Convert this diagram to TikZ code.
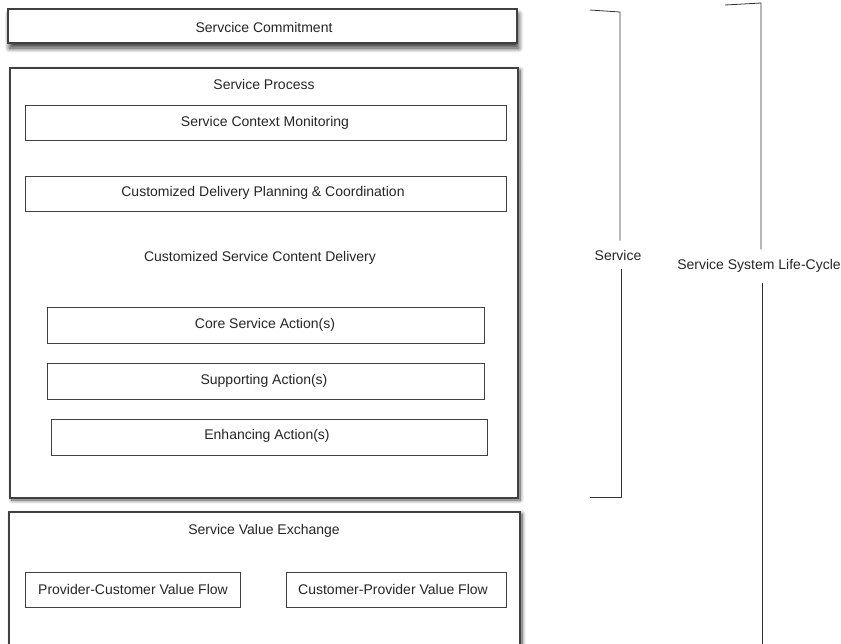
\documentclass[tikz,border=0pt]{standalone}
\usepackage{fontspec}
\setmainfont{Liberation Sans}
\usetikzlibrary{shadows.blur}
\begin{document}
\begin{tikzpicture}[x=1pt,y=-1pt,
  every node/.style={font=\fontsize{14}{16}\selectfont, text=black!85},
  panel/.style={draw=black!75, line width=1.1pt, fill=white,
    blur shadow={shadow xshift=2pt, shadow yshift=-2pt, shadow blur radius=4pt, shadow blur steps=10, shadow opacity=70}},
  bar/.style={draw=black!75, line width=1.1pt, fill=white,
    blur shadow={shadow xshift=1.5pt, shadow yshift=-5pt, shadow blur radius=5pt, shadow blur steps=10, shadow opacity=80}},
  item/.style={draw=black!75, line width=0.9pt, fill=white},
  brace/.style={draw=black!80, line width=0.8pt},
  faint/.style={draw=black!20, line width=0.8pt}]
\useasboundingbox (0,0) rectangle (841,643);
\clip (0,0) rectangle (841,643);

% commitment bar
\path[bar] (8,9) rectangle (517,43);
\node (commit) at (264,27) {Servcice Commitment};

% service process panel
\path[panel] (10,68) rectangle (518,498);
\draw[faint] (521,96) -- (521,160);
\draw[faint] (521,166) -- (521,235);
\node (proc) at (264,84) {Service Process};
\path[item] (25,105) rectangle (506,140);
\node (monitor) at (265,123) {Service Context Monitoring};
\path[item] (25,176) rectangle (506,211);
\node (plan) at (263,193) {Customized Delivery Planning \& Coordination};
\node (content) at (260,258) {Customized Service Content Delivery};
\path[item] (47,307) rectangle (484,343);
\node (core) at (265,325) {Core Service Action(s)};
\path[item] (47,363) rectangle (484,399);
\node (support) at (264,381) {Supporting Action(s)};
\path[item] (51,419) rectangle (487,455);
\node (enhance) at (267,436) {Enhancing Action(s)};

% value exchange panel
\path[panel] (9,512) rectangle (520,660);
\draw[faint] (523,560) -- (523,630);
\node (exch) at (264,531) {Service Value Exchange};
\path[item] (25,572) rectangle (240,607);
\node (pcflow) at (133,589) {Provider-Customer Value Flow};
\path[item] (286,572) rectangle (506,607);
\node (cpflow) at (393,589) {Customer-Provider Value Flow};

% service bracket
\node[inner ysep=9pt] (svc) at (618,255) {Service};
\coordinate (s1) at (590,10);
\coordinate (s2) at (620,12);
\coordinate (s3) at (621,497);
\coordinate (s4) at (590,497);
\draw[brace] (s1) -- (s2) -- (s2 |- svc.north);
\draw[brace] (s3 |- svc.south) -- (s3) -- (s4);

% life-cycle bracket
\node[inner ysep=10pt] (life) at (759,266) {Service System Life-Cycle};
\coordinate (l1) at (725,5);
\coordinate (l2) at (761,3);
\coordinate (l3) at (762,650);
\draw[brace] (l1) -- (l2) -- (l2 |- life.north);
\draw[brace] (l3 |- life.south) -- (l3);
\end{tikzpicture}
\end{document}
